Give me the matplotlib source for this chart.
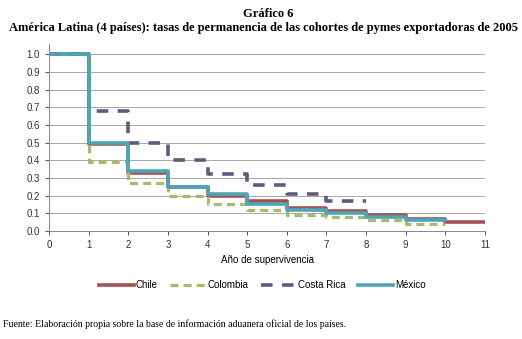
import matplotlib
matplotlib.use("Agg")
import matplotlib.pyplot as plt
import numpy as np

years = list(range(12))
chile = [1.0, 0.49, 0.33, 0.25, 0.20, 0.17, 0.13, 0.11, 0.09, 0.07, 0.05]
colombia = [1.0, 0.39, 0.27, 0.20, 0.15, 0.12, 0.09, 0.08, 0.06, 0.04]
costa_rica = [1.0, 0.68, 0.50, 0.40, 0.32, 0.26, 0.21, 0.17]
mexico = [1.0, 0.50, 0.34, 0.25, 0.21, 0.15, 0.12, 0.10, 0.08, 0.06]

series = [
    ("Chile", chile, "#a5514f", "-", 2.6),
    ("Colombia", colombia, "#a9ba6c", (0, (2.5, 1.6)), 2.3),
    ("Costa Rica", costa_rica, "#5e5b80", (0, (3.2, 2.6)), 2.6),
    ("México", mexico, "#4da5b8", "-", 2.6),
]

plt.rcParams['font.family'] = ['Liberation Sans', 'DejaVu Sans']

fig = plt.figure(figsize=(5.22, 3.39), dpi=100)
ax = fig.add_axes([0.094, 0.319, 0.835, 0.552])

for name, vals, col, ls, lw in series:
    x = years[:len(vals) + 1]
    y = vals + [vals[-1]]
    ax.step(x, y, where="post", color=col, linestyle=ls, linewidth=lw, label=name)

ax.set_xlim(0, 11)
ax.set_ylim(0, 1.06)
ax.set_xticks(range(12))
ax.set_yticks(np.arange(0, 1.01, 0.1))
ax.set_yticklabels([f"{v:.1f}" for v in np.arange(0, 1.01, 0.1)])
ax.tick_params(labelsize=7, colors="#333333", length=3, width=0.6)
ax.grid(axis="y", color="#9a9a9a", linewidth=0.6)
ax.set_axisbelow(True)
for s in ["top", "right"]:
    ax.spines[s].set_visible(False)
for s in ["left", "bottom"]:
    ax.spines[s].set_color("#888888")
    ax.spines[s].set_linewidth(0.7)
ax.set_xlabel("Año de supervivencia", fontsize=7, labelpad=4)

fig.legend(loc="center", bbox_to_anchor=(0.502, 0.158), ncol=4, frameon=False,
           fontsize=7, handlelength=3.6, columnspacing=1.3, handletextpad=0.2)

fig.text(0.513, 0.975, "Gráfico 6", ha="center", va="top", fontsize=9,
         fontweight="bold", family="Liberation Serif")
fig.text(0.505, 0.935, "América Latina (4 países): tasas de permanencia de las cohortes de pymes exportadoras de 2005",
         ha="center", va="top", fontsize=9, fontweight="bold", family="Liberation Serif")
fig.text(0.005, 0.045, "Fuente: Elaboración propia sobre la base de información aduanera oficial de los países.",
         ha="left", va="center", fontsize=7, family="Liberation Serif")

fig.savefig("out.png", dpi=100)
